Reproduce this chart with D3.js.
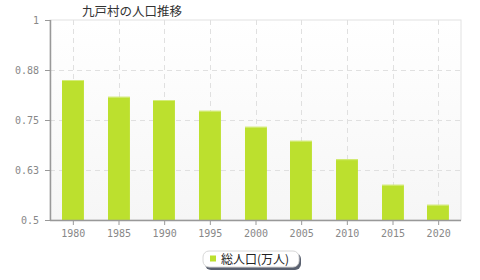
<!DOCTYPE html>
<html><head><meta charset="utf-8">
<script src="https://cdn.jsdelivr.net/npm/d3@7"></script>
<style>body{margin:0;background:#fff;}svg{display:block;}</style>
</head><body>
<svg id="c" width="480" height="280"></svg>
<script>
const title = "九戸村の人口推移";
const categories = ["1980","1985","1990","1995","2000","2005","2010","2015","2020"];
const values = [0.85, 0.808, 0.80, 0.773, 0.733, 0.698, 0.652, 0.588, 0.538];
const tickValues = [0.5, 0.625, 0.75, 0.875, 1];
const tickLabels = ["0.5", "0.63", "0.75", "0.88", "1"];
const seriesName = "総人口(万人)";

const svg = d3.select("#c");
const m = {l:50, r:461, t:20, b:220};
const x = d3.scaleBand().domain(categories).range([m.l, m.r]).paddingInner(0.52).paddingOuter(0.26);
const xc = d3.scalePoint().domain(categories).range([m.l, m.r]).padding(0.5);
const y = d3.scaleLinear().domain([0.5, 1]).range([m.b, m.t]);

const defs = svg.append("defs");
const g = defs.append("linearGradient").attr("id","bg").attr("x1",0).attr("y1",0).attr("x2",0).attr("y2",1);
g.append("stop").attr("offset","0").attr("stop-color","#ffffff");
g.append("stop").attr("offset","1").attr("stop-color","#f6f6f6");

svg.append("rect").attr("x",m.l).attr("y",m.t).attr("width",m.r-m.l).attr("height",m.b-m.t)
  .attr("fill","url(#bg)").attr("stroke","#e2e2e2").attr("stroke-width",1);

// grid
svg.append("g").selectAll("line").data(tickValues.slice(1,-1)).join("line")
  .attr("x1",m.l).attr("x2",m.r).attr("y1",d=>Math.round(y(d))+0.5).attr("y2",d=>Math.round(y(d))+0.5)
  .attr("stroke","#e0e0e0").attr("stroke-dasharray","5,4");
svg.append("g").selectAll("line").data(categories).join("line")
  .attr("x1",d=>Math.round(xc(d))+0.5).attr("x2",d=>Math.round(xc(d))+0.5).attr("y1",m.t).attr("y2",m.b)
  .attr("stroke","#e0e0e0").attr("stroke-dasharray","5,4");

// bars
svg.append("g").selectAll("rect").data(values).join("rect")
  .attr("x",(d,i)=>Math.round(xc(categories[i]) - x.bandwidth()/2))
  .attr("width",x.bandwidth())
  .attr("y",d=>y(d)).attr("height",d=>m.b - y(d))
  .attr("fill","#bce02e");
svg.append("g").selectAll("line").data(values).join("line")
  .attr("x1",(d,i)=>Math.round(xc(categories[i]) - x.bandwidth()/2))
  .attr("x2",(d,i)=>Math.round(xc(categories[i]) - x.bandwidth()/2)+x.bandwidth())
  .attr("y1",d=>y(d)+0.5).attr("y2",d=>y(d)+0.5)
  .attr("stroke","#d4ec7a").attr("stroke-width",1);

// axes
const fmt = d => tickLabels[tickValues.indexOf(d)];
const ya = svg.append("g").attr("transform",`translate(${m.l},0)`)
  .call(d3.axisLeft(y).tickValues(tickValues).tickFormat(fmt).tickSize(5).tickPadding(6));
const xa = svg.append("g").attr("transform",`translate(0,${m.b})`)
  .call(d3.axisBottom(xc).tickSize(5).tickPadding(5));
[ya,xa].forEach(a=>{
  a.select(".domain").attr("stroke","#999").attr("stroke-width",1.5);
  a.selectAll(".tick line").attr("stroke","#999");
  a.selectAll("text").attr("fill","#888").style("font-family","'DejaVu Sans Mono', monospace").style("font-size","10px");
});
xa.select(".domain").attr("d",`M${m.l},0.5H${m.r}`);
ya.select(".domain").attr("d",`M0.5,${m.t}V${m.b}`);

// title
svg.append("text").attr("x",82).attr("y",16).text(title)
  .attr("fill","#333").style("font-family","'Noto Sans CJK JP', sans-serif").style("font-size","12.5px");

// legend
const lg = svg.append("g");
lg.append("rect").attr("x",205).attr("y",253).attr("width",96).attr("height",17).attr("rx",6).attr("fill","#5a6170");
lg.append("rect").attr("x",203).attr("y",251).attr("width",96).attr("height",16).attr("rx",6).attr("fill","#fff").attr("stroke","#d8d8d8");
lg.append("rect").attr("x",210).attr("y",255.5).attr("width",6).attr("height",6).attr("fill","#bce02e");
lg.append("text").attr("x",221).attr("y",263.5).text(seriesName)
  .attr("fill","#222").style("font-family","'Noto Sans CJK JP', sans-serif").style("font-size","12px");
</script>
</body></html>
